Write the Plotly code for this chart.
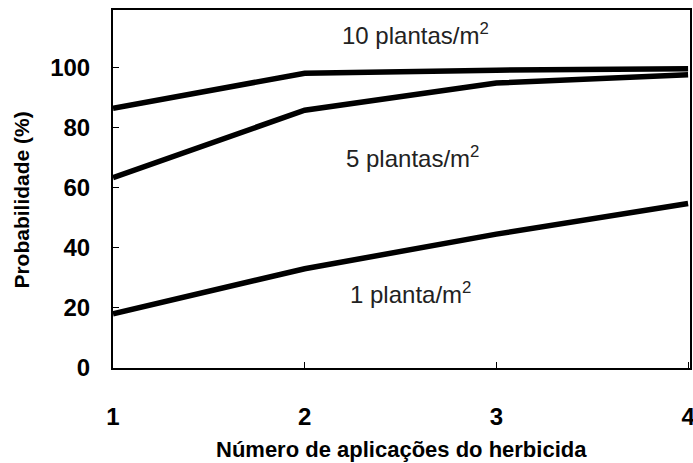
import plotly.graph_objects as go

x_apps = [1, 2, 3, 4]
y_10 = [86.3, 98, 99, 99.5]
y_5 = [63.3, 85.7, 94.7, 97.5]
y_1 = [18, 33, 44.5, 54.7]
labels = ["10 plantas/m<sup>2</sup>", "5 plantas/m<sup>2</sup>", "1 planta/m<sup>2</sup>"]
label_pos = [(2.58, 111), (2.56, 70), (2.55, 25)]
x_title = "<b>Número de aplicações do herbicida</b>"
y_title = "<b>Probabilidade (%)</b>"

fig = go.Figure()
for ys in [y_10, y_5, y_1]:
    fig.add_trace(go.Scatter(x=x_apps, y=ys, mode="lines",
                             line=dict(color="black", width=5.5), showlegend=False))
for t, (xx, yy) in zip(labels, label_pos):
    fig.add_annotation(x=xx, y=yy, text=t, showarrow=False,
                       font=dict(family="Liberation Sans, Arial", size=24, color="#222"))

fig.add_annotation(x=0.5, y=-0.228, xref="paper", yref="paper", text=x_title, showarrow=False,
                   xanchor="center", yanchor="middle",
                   font=dict(family="Liberation Sans, Arial", size=22, color="black"))
fig.add_annotation(x=-0.158, y=0.47, xref="paper", yref="paper", text=y_title, showarrow=False,
                   textangle=-90, xanchor="center", yanchor="middle",
                   font=dict(family="Liberation Sans, Arial", size=21, color="black"))

tickfont = dict(family="Liberation Sans, Arial", size=24, color="black", weight="bold")
fig.update_layout(
    width=693, height=463, paper_bgcolor="white", plot_bgcolor="white",
    margin=dict(l=113, r=3, t=10, b=95),
    xaxis=dict(range=[1, 4.01], tickvals=[1, 2, 3, 4], ticks="inside", ticklen=6,
               tickcolor="black", showline=True, linecolor="black", linewidth=2, mirror=True,
               showgrid=False, zeroline=False, tickfont=tickfont, ticklabelstandoff=26,
               ticklabeloverflow="allow", automargin=False),
    yaxis=dict(range=[0, 119], tickvals=[0, 20, 40, 60, 80, 100], ticks="inside", ticklen=6,
               tickcolor="black", showline=True, linecolor="black", linewidth=2, mirror=True,
               showgrid=False, zeroline=False, tickfont=tickfont, ticklabelstandoff=16,
               automargin=False),
)
fig.write_html("out.html", config={"displayModeBar": False},
               post_script="document.body.style.margin='0';document.body.style.overflow='hidden';")
